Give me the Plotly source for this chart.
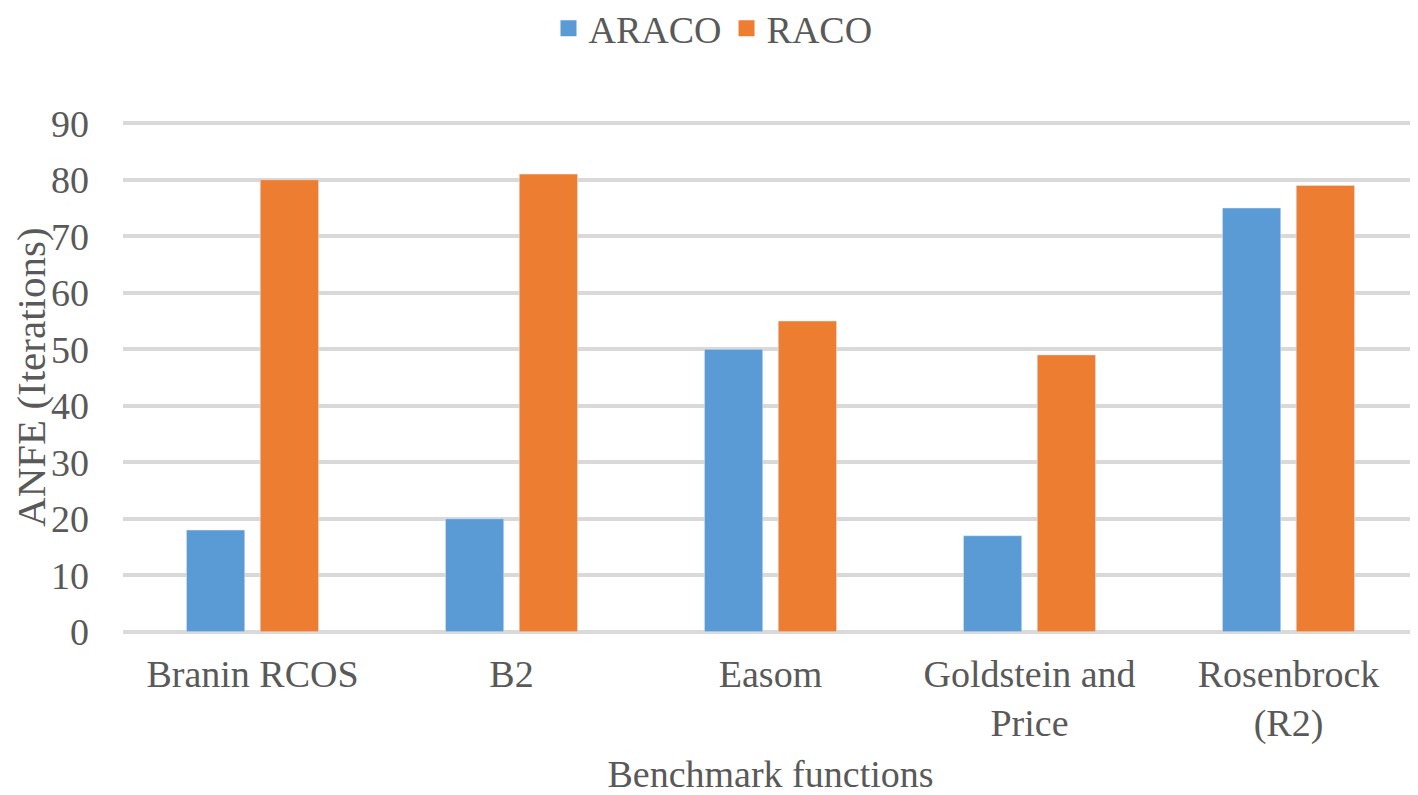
import plotly.graph_objects as go

categories = ["Branin RCOS", "B2", "Easom", "Goldstein and<br>Price", "Rosenbrock<br>(R2)"]
araco = [18, 20, 50, 17, 75]
raco = [80, 81, 55, 49, 79]
yticks = [0, 10, 20, 30, 40, 50, 60, 70, 80, 90]
series_names = ["ARACO", "RACO"]
series_colors = ["#5B9BD5", "#ED7D31"]

font_family = "Liberation Serif"
text_color = "#595959"
fs = 38

fig = go.Figure()
for name, vals, col in zip(series_names, [araco, raco], series_colors):
    fig.add_trace(go.Bar(name=name, x=categories, y=vals, marker_color=col,
                         showlegend=False, legendgroup=name))
for name, col in zip(series_names, series_colors):
    fig.add_trace(go.Scatter(name=name, x=[categories[0]], y=[None], mode="markers",
                             marker=dict(symbol="square", size=20, color=col),
                             legendgroup=name, showlegend=True, hoverinfo="skip"))

fig.add_annotation(text="ANFE (Iterations)", xref="paper", yref="paper",
                   x=-0.0715, y=0.5, xanchor="center", yanchor="middle",
                   textangle=-90, showarrow=False, borderpad=0,
                   font=dict(family=font_family, size=41, color=text_color))

fig.update_layout(
    width=1410, height=787,
    paper_bgcolor="white", plot_bgcolor="white",
    margin=dict(l=115, r=0, t=113, b=161, autoexpand=False),
    barmode="group", bargap=0.43, bargroupgap=0.21,
    font=dict(family=font_family, size=fs, color=text_color),
    legend=dict(orientation="h", xref="container", x=0.5, xanchor="center",
                yref="paper", y=1.18, yanchor="middle",
                font=dict(family=font_family, size=fs, color=text_color),
                itemwidth=30, traceorder="normal", itemsizing="trace"),
    xaxis=dict(showgrid=False, showline=False, ticks="", ticklabelstandoff=14,
               title=dict(text="Benchmark functions", standoff=22,
                          font=dict(family=font_family, size=fs, color=text_color)),
               tickfont=dict(family=font_family, size=fs, color=text_color)),
    yaxis=dict(range=[-0.4, 90.4], tickvals=yticks, showgrid=True,
               gridcolor="#D9D9D9", gridwidth=4, zeroline=False,
               showline=False, ticks="", ticklabelstandoff=33,
               tickfont=dict(family=font_family, size=fs, color=text_color)),
)

fig.write_html("out.html")
